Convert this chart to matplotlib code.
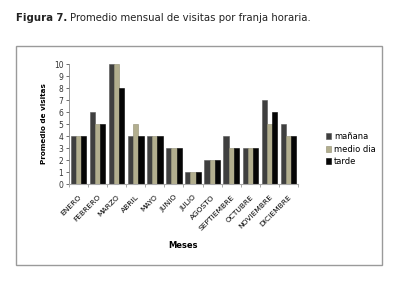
import matplotlib.pyplot as plt
import numpy as np
from matplotlib.patches import Rectangle

meses = ['ENERO', 'FEBRERO', 'MARZO', 'ABRIL', 'MAYO', 'JUNIO', 'JULIO',
         'AGOSTO', 'SEPTIEMBRE', 'OCTUBRE', 'NOVIEMBRE', 'DICIEMBRE']
manana = [4, 6, 10, 4, 4, 3, 1, 2, 4, 3, 7, 5]
medio_dia = [4, 5, 10, 5, 4, 3, 1, 2, 3, 3, 5, 4]
tarde = [4, 5, 8, 4, 4, 3, 1, 2, 3, 3, 6, 4]

W, H = 409, 296
fig = plt.figure(figsize=(W / 100, H / 100), dpi=100)

# title: bold part then the rest right after it
t1 = fig.text(16 / W, 1 - 18 / H, 'Figura 7.', fontsize=7.3, fontweight='bold',
              color='#222222', va='center', ha='left')
fig.canvas.draw()
bb = t1.get_window_extent()
fig.text(bb.x1 / W + 3 / W, 1 - 18 / H, 'Promedio mensual de visitas por franja horaria.',
         fontsize=7.3, color='#222222', va='center', ha='left')

# frame
fig.patches.append(Rectangle((16 / W, 1 - 265 / H), (382 - 16) / W, (265 - 46) / H,
                             transform=fig.transFigure, fill=False,
                             edgecolor='#9a9a9a', linewidth=1.0))

ax = fig.add_axes([69 / W, 1 - 184 / H, (298 - 69) / W, (184 - 64) / H])
x = np.arange(len(meses))
w = 0.27
ax.bar(x - w, manana, w, color='#3f3f3f', edgecolor='#555555', linewidth=0.4, label='mañana')
ax.bar(x, medio_dia, w, color='#b2ae8e', edgecolor='#8f8c70', linewidth=0.4, label='medio dia')
ax.bar(x + w, tarde, w, color='#050505', edgecolor='#000000', linewidth=0.4, label='tarde')

ax.set_ylim(0, 10)
ax.set_xlim(-0.5, 11.5)
ax.set_yticks(range(0, 11))
ax.tick_params(axis='y', labelsize=5.5, length=2, width=0.5, pad=2, colors='#333333')
ax.set_xticks(x)
ax.set_xticklabels(meses, rotation=45, ha='right', rotation_mode='anchor', fontsize=5.4)
ax.set_xticks(np.arange(-0.5, 12, 1), minor=True)
ax.tick_params(axis='x', which='major', length=0, pad=7)
ax.tick_params(axis='x', which='minor', length=2, width=0.5, color='#888888')
for s in ['top', 'right']:
    ax.spines[s].set_visible(False)
ax.spines['left'].set_color('#888888')
ax.spines['left'].set_linewidth(0.6)
ax.spines['bottom'].set_color('#aaaaaa')
ax.spines['bottom'].set_linewidth(0.8)

ax.set_ylabel('Promedio de visitas', fontsize=5.2, fontweight='bold', labelpad=5)
fig.text(183 / W, 1 - 246 / H, 'Meses', fontsize=6, fontweight='bold',
         ha='center', va='center')

ax.legend(loc='center left', bbox_to_anchor=(318 / W, 1 - 149 / H),
          bbox_transform=fig.transFigure, frameon=False, fontsize=6,
          handlelength=0.7, handleheight=0.7, handletextpad=0.3, labelspacing=0.45)

fig.savefig('out.png', dpi=100)
